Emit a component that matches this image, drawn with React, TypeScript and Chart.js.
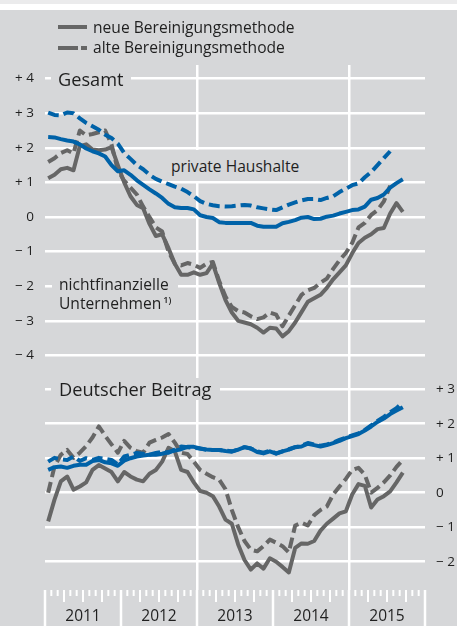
import React, { useEffect, useRef } from "react";
import { Chart, registerables } from "chart.js";
Chart.register(...registerables);

// Monthly data, Jan 2011 onwards (index 0 = Jan 2011)
const years = ["2011", "2012", "2013", "2014", "2015"];
const monthCount = 60;
const yTicksTop = [-4, -3, -2, -1, 0, 1, 2, 3, 4];
const yTicksBottom = [-2, -1, 0, 1, 2, 3];

// Gesamt – private Haushalte
const hhNeu = [2.31, 2.3, 2.25, 2.21, 2.18, 2.1, 1.98, 1.9, 1.84, 1.75, 1.5, 1.32, 1.35, 1.22, 1.06, 0.93, 0.8, 0.68, 0.55, 0.38, 0.28, 0.26, 0.26, 0.22, 0.05, 0.0, -0.03, -0.15, -0.17, -0.17, -0.17, -0.17, -0.17, -0.25, -0.28, -0.28, -0.28, -0.18, -0.14, -0.09, -0.02, 0.0, -0.06, -0.05, 0.01, 0.04, 0.1, 0.15, 0.2, 0.22, 0.3, 0.5, 0.55, 0.65, 0.85, 0.98, 1.09];
const hhAlt = [3.02, 2.95, 2.94, 3.02, 3.0, 2.85, 2.72, 2.62, 2.52, 2.38, 2.28, 2.12, 1.85, 1.68, 1.5, 1.38, 1.22, 1.1, 1.02, 0.95, 0.88, 0.82, 0.72, 0.6, 0.46, 0.38, 0.34, 0.31, 0.3, 0.31, 0.33, 0.35, 0.33, 0.28, 0.25, 0.22, 0.2, 0.28, 0.36, 0.42, 0.48, 0.52, 0.52, 0.49, 0.55, 0.6, 0.72, 0.82, 0.92, 0.97, 1.15, 1.3, 1.5, 1.7, 1.9];
// Gesamt – nichtfinanzielle Unternehmen
const nfuNeu = [1.12, 1.22, 1.38, 1.42, 1.35, 2.05, 2.1, 1.95, 1.93, 1.95, 2.02, 1.5, 1.0, 0.6, 0.35, 0.25, -0.2, -0.55, -0.5, -0.9, -1.35, -1.67, -1.67, -1.6, -1.67, -1.62, -1.35, -1.9, -2.4, -2.76, -3.0, -3.05, -3.1, -3.2, -3.34, -3.2, -3.22, -3.45, -3.3, -3.05, -2.75, -2.45, -2.35, -2.25, -2.05, -1.8, -1.6, -1.4, -1.05, -0.75, -0.6, -0.5, -0.35, -0.32, 0.1, 0.4, 0.15];
const nfuAlt = [1.59, 1.7, 1.85, 1.93, 1.84, 2.5, 2.36, 2.4, 2.45, 2.5, 2.1, 1.35, 1.05, 0.85, 0.65, 0.3, 0.0, -0.3, -0.42, -1.0, -1.35, -1.4, -1.33, -1.38, -1.47, -1.35, -1.3, -1.85, -2.3, -2.6, -2.72, -2.76, -2.87, -2.95, -2.9, -2.76, -2.82, -3.16, -2.85, -2.55, -2.25, -2.12, -2.05, -1.9, -1.78, -1.5, -1.25, -1.04, -0.75, -0.3, -0.17, 0.06, 0.2, 0.45, 0.9];
// Deutscher Beitrag
const deHhNeu = [0.66, 0.74, 0.76, 0.72, 0.78, 0.81, 0.81, 0.92, 0.95, 0.88, 0.85, 0.78, 0.93, 1.0, 1.05, 1.08, 1.1, 1.1, 1.13, 1.18, 1.22, 1.26, 1.33, 1.33, 1.28, 1.25, 1.24, 1.24, 1.21, 1.19, 1.25, 1.32, 1.28, 1.18, 1.14, 1.2, 1.13, 1.2, 1.25, 1.32, 1.34, 1.42, 1.38, 1.34, 1.38, 1.44, 1.5, 1.58, 1.64, 1.7, 1.8, 1.92, 2.05, 2.15, 2.28, 2.38, 2.48];
const deHhAlt = [0.9, 1.01, 0.97, 0.95, 1.05, 0.92, 1.0, 0.95, 1.01, 0.98, 0.95, 0.82, 1.05, 1.1, 1.15, 1.13, 1.1, 1.15, 1.19, 1.16, 1.25, 1.34, 1.32, 1.3, 1.28, 1.24, 1.24, 1.24, 1.22, 1.2, 1.25, 1.32, 1.28, 1.2, 1.16, 1.22, 1.14, 1.2, 1.26, 1.32, 1.36, 1.44, 1.4, 1.36, 1.4, 1.45, 1.53, 1.6, 1.66, 1.72, 1.82, 1.95, 2.08, 2.2, 2.33, 2.45, 2.62];
const deNfuNeu = [-0.83, -0.2, 0.33, 0.47, 0.09, 0.18, 0.3, 0.66, 0.8, 0.7, 0.6, 0.33, 0.6, 0.47, 0.38, 0.33, 0.55, 0.66, 0.9, 1.3, 1.2, 0.66, 0.6, 0.3, 0.05, 0.0, -0.1, -0.4, -0.78, -0.9, -1.5, -1.95, -2.23, -2.05, -2.2, -1.9, -2.0, -2.15, -2.31, -1.6, -1.47, -1.48, -1.4, -1.1, -0.9, -0.75, -0.6, -0.54, -0.05, 0.25, 0.2, -0.43, -0.2, -0.1, 0.04, 0.3, 0.58];
const deNfuAlt = [0.0, 0.76, 1.1, 1.24, 1.01, 1.16, 1.35, 1.6, 1.92, 1.65, 1.4, 1.16, 1.5, 1.3, 1.2, 1.16, 1.45, 1.53, 1.6, 1.7, 1.45, 1.16, 1.12, 0.9, 0.66, 0.55, 0.45, 0.38, 0.1, -0.5, -1.0, -1.4, -1.65, -1.7, -1.55, -1.36, -1.45, -1.55, -1.73, -0.95, -0.87, -0.95, -0.65, -0.5, -0.4, -0.05, 0.18, 0.4, 0.66, 0.72, 0.52, 0.0, 0.14, 0.3, 0.5, 0.75, 0.95];

const BG = "#d6d7d9";
const GRAY = "#666666";
const BLUE = "#0062a8";
const TEXT = "#1f1f1f";
const FONT = '"Open Sans", "Noto Sans", sans-serif';

const pts = (arr: number[]) => arr.map((v, i) => ({ x: i + 0.5, y: v }));

const fmt = (v: number) => (v > 0 ? "+ " + v : v < 0 ? "\u2212 " + Math.abs(v) : "0");

const monthTicks = {
  id: "monthTicks",
  afterDraw(chart: any) {
    const xs = chart.scales.x;
    const ctx = chart.ctx;
    const top = xs.top;
    ctx.save();
    ctx.strokeStyle = "#ffffff";
    for (let i = 0; i <= monthCount; i++) {
      const px = xs.getPixelForValue(i);
      let len = 6;
      let w = 2;
      if (i % 12 === 0) {
        len = 40;
        w = 2.5;
      } else if (i % 3 === 0) {
        len = 12;
      }
      ctx.lineWidth = w;
      ctx.beginPath();
      ctx.moveTo(px, top);
      ctx.lineTo(px, top + len);
      ctx.stroke();
    }
    ctx.restore();
  },
};

function LineChart() {
  const ref = useRef<HTMLCanvasElement>(null);
  useEffect(() => {
    if (!ref.current) return;
    const line = (data: number[], color: string, dashed: boolean, axis: string, order: number) => ({
      data: pts(data),
      borderColor: color,
      backgroundColor: color,
      borderWidth: 4,
      borderDash: dashed ? [11, 5] : [],
      borderJoinStyle: "round" as const,
      pointRadius: 0,
      tension: 0,
      fill: false,
      yAxisID: axis,
      order,
    });
    const chart = new Chart(ref.current, {
      type: "line",
      data: {
        datasets: [
          line(hhAlt, BLUE, true, "y", 0),
          line(hhNeu, BLUE, false, "y", 1),
          line(nfuAlt, GRAY, true, "y", 2),
          line(nfuNeu, GRAY, false, "y", 3),
          line(deHhAlt, BLUE, true, "y2", 0),
          line(deHhNeu, BLUE, false, "y2", 1),
          line(deNfuAlt, GRAY, true, "y2", 2),
          line(deNfuNeu, GRAY, false, "y2", 3),
        ],
      },
      options: {
        animation: false,
        responsive: false,
        maintainAspectRatio: false,
        events: [],
        layout: { padding: { top: 65, left: 0, right: 0, bottom: 0 } },
        plugins: { legend: { display: false }, tooltip: { enabled: false } },
        scales: {
          x: {
            type: "linear",
            min: 0,
            max: monthCount,
            position: "bottom",
            border: { display: false },
            grid: {
              color: (c: any) =>
                c.tick && (c.tick.value === 24 || c.tick.value === 48) ? "#ffffff" : "rgba(0,0,0,0)",
              lineWidth: 2.5,
              drawTicks: false,
            },
            ticks: {
              autoSkip: false,
              maxRotation: 0,
              padding: 17,
              color: TEXT,
              font: { family: FONT, size: 15.5 },
              callback: (v: any) => (Number(v) % 12 === 6 ? years[(Number(v) - 6) / 12] : ""),
            },
            afterBuildTicks: (s: any) => {
              s.ticks = Array.from({ length: monthCount + 1 }, (_, i) => ({ value: i }));
            },
            afterFit: (s: any) => {
              s.height = 36;
            },
          },
          y: {
            type: "linear",
            position: "left",
            min: -10.78,
            max: 4.393,
            border: { display: false },
            grid: { color: "#ffffff", lineWidth: 2.5, drawTicks: false },
            ticks: {
              padding: 11,
              color: TEXT,
              font: { family: FONT, size: 13.5 },
              callback: (v: any) => fmt(Number(v)),
            },
            afterBuildTicks: (s: any) => {
              s.ticks = yTicksTop.map((v) => ({ value: v }));
            },
            afterFit: (s: any) => {
              s.width = 45;
            },
          },
          y2: {
            type: "linear",
            position: "right",
            min: -2.82,
            max: 12.397,
            border: { display: false },
            grid: { color: "#ffffff", lineWidth: 2.5, drawTicks: false },
            ticks: {
              padding: 11,
              color: TEXT,
              font: { family: FONT, size: 13.5 },
              callback: (v: any) => fmt(Number(v)),
            },
            afterBuildTicks: (s: any) => {
              s.ticks = yTicksBottom.map((v) => ({ value: v }));
            },
            afterFit: (s: any) => {
              s.width = 32;
            },
          },
        },
      },
      plugins: [monthTicks],
    } as any);
    return () => chart.destroy();
  }, []);
  return (
    <canvas
      ref={ref}
      width={457}
      height={626}
      style={{ position: "absolute", left: 0, top: 0, width: 457, height: 626 }}
    />
  );
}

const abs = (l: number, t: number, extra: React.CSSProperties = {}): React.CSSProperties => ({
  position: "absolute",
  left: l,
  top: t,
  ...extra,
});

export default function App() {
  const txt: React.CSSProperties = { fontFamily: FONT, color: TEXT, whiteSpace: "nowrap" };
  return (
    <div style={{ position: "absolute", left: 0, top: 0, width: 457, height: 626, overflow: "hidden", background: "#ffffff" }}>
      <div style={abs(0, 0, { width: 457, height: 4, background: "#ebebec" })} />
      <div style={abs(0, 10, { width: 457, height: 616, background: BG })} />
      <LineChart />
      {/* legend */}
      <div style={abs(58, 25, { width: 29, height: 4, background: GRAY })} />
      <div style={abs(93, 17, { ...txt, fontSize: 15.6, lineHeight: "20px" })}>neue Bereinigungsmethode</div>
      <div style={abs(58, 46, { width: 20, height: 4, background: GRAY })} />
      <div style={abs(81, 46, { width: 6, height: 4, background: GRAY })} />
      <div style={abs(93, 37, { ...txt, fontSize: 15.6, lineHeight: "20px" })}>alte Bereinigungsmethode</div>
      {/* panel titles */}
      <div style={abs(51, 67.7, { ...txt, background: BG, fontSize: 18.2, lineHeight: "22px", width: 80, paddingLeft: 7, boxSizing: "border-box" })}>Gesamt</div>
      <div style={abs(51, 377.7, { ...txt, background: BG, fontSize: 18.2, lineHeight: "22px", width: 169, paddingLeft: 8, boxSizing: "border-box" })}>Deutscher Beitrag</div>
      {/* series labels */}
      <div style={abs(165, 150, { ...txt, background: BG, fontSize: 15.6, lineHeight: "20px", paddingTop: 6.3, paddingLeft: 6, paddingRight: 6, height: 31, boxSizing: "border-box" })}>private Haushalte</div>
      <div style={abs(52, 275.2, { ...txt, background: BG, fontSize: 15.6, lineHeight: "19px", paddingLeft: 7, width: 126, boxSizing: "border-box" })}>
        nichtfinanzielle
        <br />
        Unternehmen
        <span style={{ fontSize: 9, position: "relative", top: -6, marginLeft: 2, fontWeight: 600 }}>1)</span>
      </div>
    </div>
  );
}
